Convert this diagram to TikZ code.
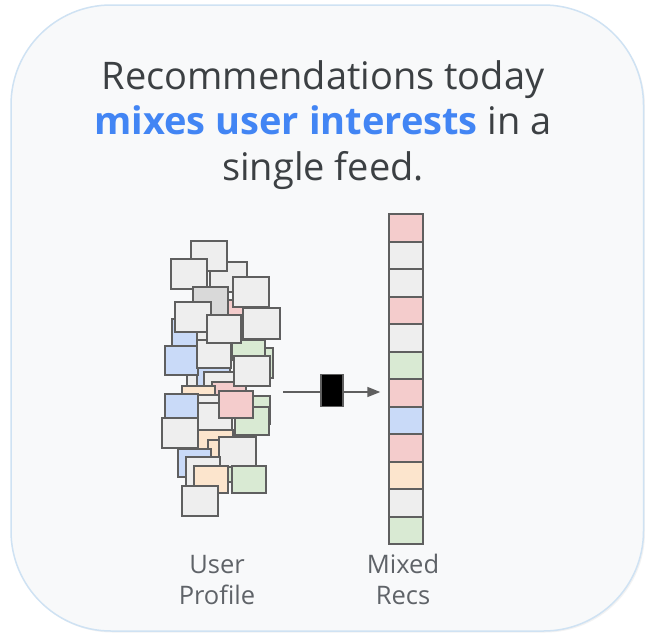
\documentclass[tikz,border=0pt]{standalone}
\usepackage{fontspec}
\setmainfont{Open Sans}
\usetikzlibrary{arrows.meta}
\definecolor{gfill}{HTML}{EEEEEE}
\definecolor{dfill}{HTML}{D9D9D9}
\definecolor{rfill}{HTML}{F4CCCC}
\definecolor{grfill}{HTML}{D9EAD3}
\definecolor{bfill}{HTML}{C9DAF8}
\definecolor{ofill}{HTML}{FCE5CD}
\definecolor{edge}{HTML}{5F5F5F}
\definecolor{frameedge}{HTML}{CFE2F3}
\definecolor{framefill}{HTML}{F8F9FA}
\definecolor{titlecol}{HTML}{3C4043}
\definecolor{accent}{HTML}{4285F4}
\definecolor{labelcol}{HTML}{5F6368}
\tikzset{
  card/.style={draw=edge, line width=2pt},
  cell/.style={draw=edge, line width=2pt, minimum width=33.4pt, minimum height=27.5pt, inner sep=0pt, outer sep=0pt},
  titletext/.style={text=titlecol, font=\fontsize{38}{45}\selectfont, inner sep=0pt, anchor=base},
  labeltext/.style={text=labelcol, font=\fontsize{25.5}{31}\selectfont, inner sep=0pt, anchor=base},
}
\begin{document}
\begin{tikzpicture}[x=1pt,y=-1pt]
\useasboundingbox (0,0) rectangle (645,635);
\fill[white] (0,0) rectangle (645,635);
% shadow and frame
\fill[black!5, rounded corners=100pt] (12.5,6.5) rectangle (645,632.5);
\draw[fill=framefill, draw=frameedge, line width=1.5pt, rounded corners=100pt] (11,5) rectangle (643.5,631);
% title
\node[titletext] (t1) at (323,89) {Recommendations today};
\node[titletext] (t2) at (323,134) {{\bfseries\color{accent}mixes user interests} in a};
\node[titletext] (t3) at (323,180) {single feed.};
% pile of profile items (back to front)
\foreach \xa/\ya/\xb/\yb/\c in {
  210/262/247/292/gfill,
  191/241/227/271/gfill,
  171/259/207/289/gfill,
  222/300/255/328/rfill,
  193/287/228/317/dfill,
  233/277/269/307/gfill,
  172/319/205/348/bfill,
  240/348/273/378/grfill,
  232/340/265/360/grfill,
  197/327/231/355/gfill,
  188/347/221/372/rfill,
  187/362/220/390/gfill,
  197/357/230/386/bfill,
  165/346/198/375/bfill,
  197/340/231/368/gfill,
  204/372/238/400/gfill,
  212/382/246/410/rfill,
  182/386/215/414/ofill,
  252/396/270/424/grfill,
  165/394/198/420/bfill,
  198/395/232/425/gfill,
  198/403/232/431/gfill,
  235/407/269/435/grfill,
  219/391/253/418/rfill,
  162/418/198/448/gfill,
  175/302/211/332/gfill,
  207/315/241/343/gfill,
  243/308/280/339/gfill,
  234/356/270/386/gfill,
  198/430/233/458/ofill,
  208/440/240/468/ofill,
  222/452/255/482/grfill,
  178/449/211/477/bfill,
  219/437/256/467/gfill,
  186/457/220/487/gfill,
  194/466/228/493/ofill,
  232/466/266/493/grfill,
  182/486/218/516/gfill}
  {\draw[card, fill=\c] (\xa,\ya) rectangle (\xb,\yb);}
% mixed recommendations column
\foreach \c [count=\i from 0] in {rfill,gfill,gfill,rfill,gfill,grfill,rfill,bfill,rfill,ofill,gfill,grfill}
  {\node[cell, fill=\c] (c\i) at (406, 214+13.75+27.5*\i) {};}
% model block and connectors
\coordinate (src) at (283,392);
\node[draw=edge, fill=black, line width=1.5pt, minimum width=22pt, minimum height=32pt, inner sep=0pt] (blk) at (332,390.5) {};
\draw[edge, line width=1.5pt] (src) -- (blk.west |- src);
\draw[edge, line width=1.5pt, -{Triangle[length=13pt,width=10pt]}] (blk.east |- src) -- ([xshift=-9pt]c6.west |- src);
% labels
\node[labeltext] (u1) at (217,573) {User};
\node[labeltext] (u2) at (217,604) {Profile};
\node[labeltext] (m1) at (403,573) {Mixed};
\node[labeltext] (m2) at (403,604) {Recs};
\end{tikzpicture}
\end{document}
